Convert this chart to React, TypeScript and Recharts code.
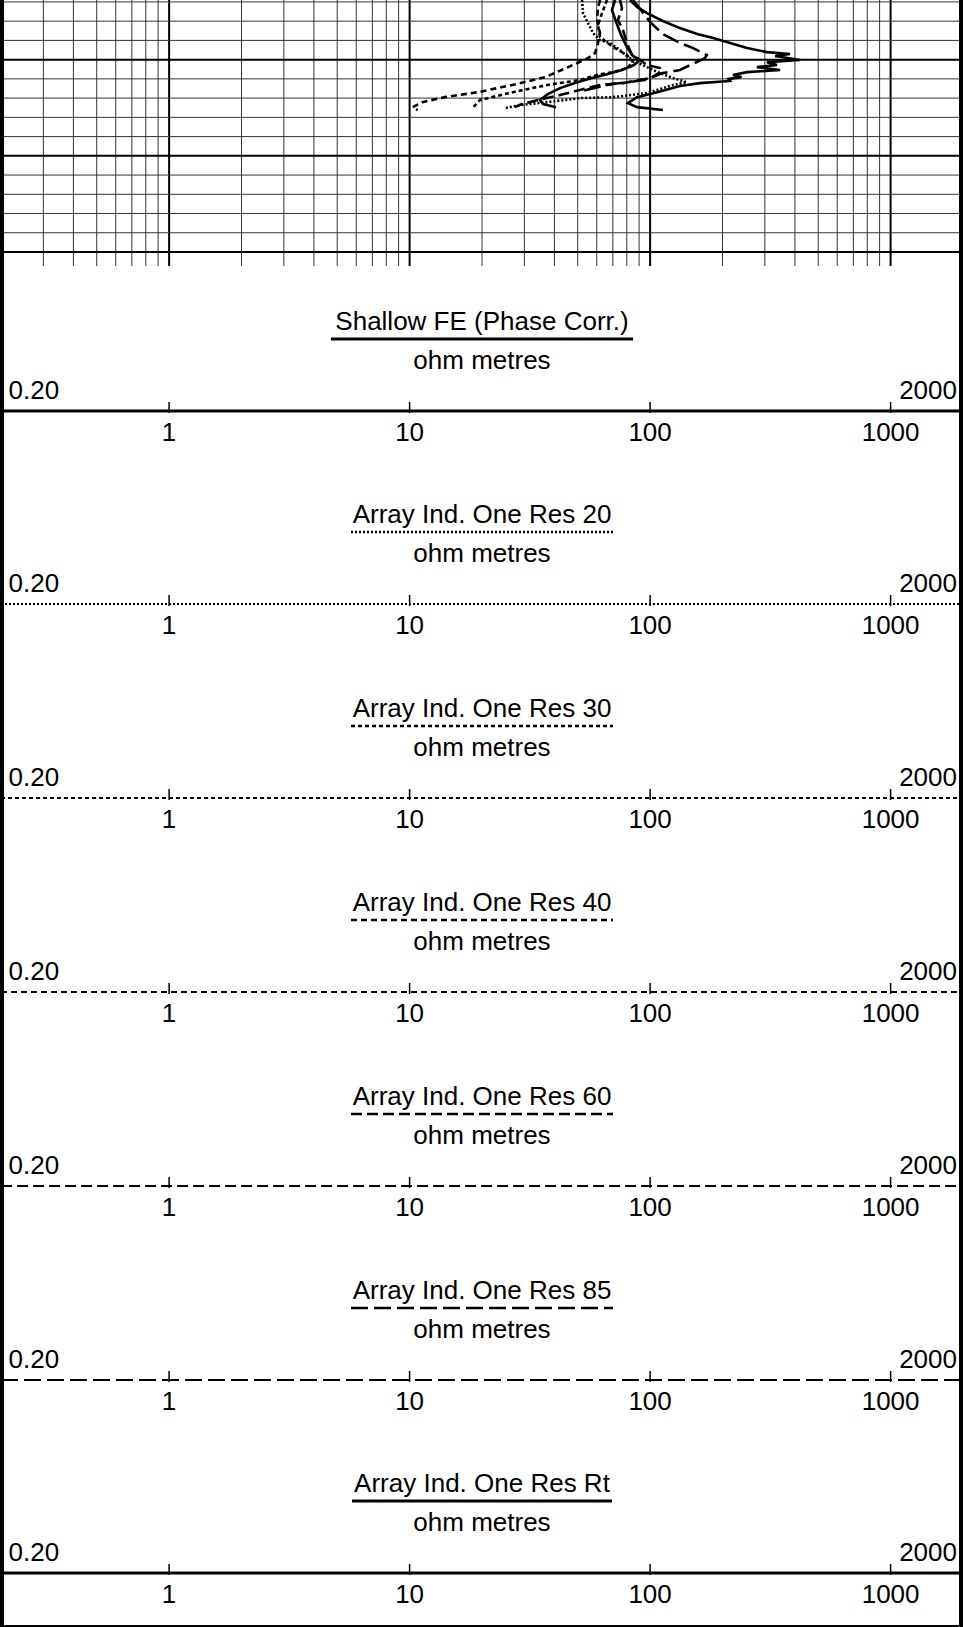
import { ScatterChart, Scatter, XAxis, YAxis, ReferenceLine } from 'recharts';

const FONT = '"Liberation Sans", Arial, Helvetica, sans-serif';

// resistivity scale, ohm m (log)
const RES_MIN = 0.2;
const RES_MAX = 2000;
const DECADES = [1, 10, 100, 1000];
const GRID_RES = [
	0.3, 0.4, 0.5, 0.6, 0.7, 0.8, 0.9, 1,
	2, 3, 4, 5, 6, 7, 8, 9, 10,
	20, 30, 40, 50, 60, 70, 80, 90, 100,
	200, 300, 400, 500, 600, 700, 800, 900, 1000,
];

// depth grid
const DEPTH_TOP = 2146.9;
const DEPTH_BOTTOM = 2160;
const DEPTH_LINES = [2147, 2148, 2149, 2150, 2151, 2152, 2153, 2154, 2155, 2156, 2157, 2158, 2159, 2160];
const DEPTH_MAJOR = [2150, 2155, 2160];

// curves: [depth, ohm m]
const shallowFe: [number, number][] = [
	[2146.9, 71.5], [2147.42, 69.4], [2148.04, 72.2], [2148.72, 75.7], [2149.35, 80.1], [2149.81, 84.9],
	[2150.02, 90.8], [2150.28, 85.7], [2150.54, 76.4], [2150.75, 66.8], [2150.96, 57.3], [2151.22, 48.7],
	[2151.48, 42.2], [2151.79, 37.6], [2152.1, 34.8], [2152.31, 35.9], [2152.47, 40.6],
];
const res20: [number, number][] = [
	[2146.9, 52.1], [2147.58, 52.6], [2148.1, 55.2], [2148.62, 57.9], [2148.98, 61.9], [2149.14, 68.1],
	[2149.5, 75.0], [2149.87, 80.9], [2150.13, 88.2], [2150.39, 97.1], [2150.7, 110], [2150.96, 124.5],
	[2151.17, 142], [2151.32, 124.5], [2151.74, 97.1], [2151.95, 70.1], [2152.0, 51.1], [2152.21, 37.3],
	[2152.36, 28.8], [2152.52, 24.9],
];
const res30: [number, number][] = [
	[2146.9, 66.2], [2147.58, 63.1], [2148.2, 60.7], [2148.83, 61.9], [2149.35, 70.1], [2149.76, 80.1],
	[2150.13, 84.9], [2150.44, 80.1], [2150.65, 70.1], [2150.8, 60.2], [2151.06, 51.1], [2151.32, 37.3],
	[2151.69, 26.9], [2152.1, 19.6], [2152.47, 18.4],
];
const res40: [number, number][] = [
	[2146.9, 61.9], [2147.32, 60.7], [2147.94, 60.2], [2148.62, 61.9], [2149.14, 60.7], [2149.66, 59.0],
	[2149.92, 55.2], [2150.39, 45.6], [2150.91, 36.6], [2151.32, 26.7], [2151.69, 19.3], [2151.95, 14.0],
	[2152.21, 11.3], [2152.47, 10.3], [2152.62, 10.8],
];
const res60: [number, number][] = [
	[2146.9, 75.0], [2147.32, 76.4], [2147.94, 73.5], [2148.46, 77.1], [2149.14, 80.1], [2149.76, 84.1],
	[2150.02, 90.8], [2150.28, 97.1], [2150.44, 110], [2150.7, 113], [2150.96, 99.9], [2151.22, 77.1],
	[2151.32, 61.9], [2151.58, 51.1], [2151.84, 42.2], [2152.1, 34.2], [2152.31, 29.3], [2152.47, 27.4],
];
const res85: [number, number][] = [
	[2146.9, 84.9], [2147.42, 91.6], [2148.04, 99.9], [2148.67, 113], [2149.09, 131], [2149.4, 151],
	[2149.76, 172], [2149.92, 169], [2150.28, 147], [2150.54, 133], [2150.65, 119], [2150.75, 107],
	[2150.91, 102], [2151.06, 95.2], [2151.17, 80.9], [2151.27, 69.4], [2151.43, 60.7], [2151.63, 52.1],
];
const resRt: [number, number][] = [
	[2146.9, 82.5], [2147.26, 88.2], [2147.58, 97.1], [2147.99, 113], [2148.36, 133], [2148.67, 157],
	[2148.88, 183], [2149.14, 215], [2149.4, 253], [2149.61, 306], [2149.71, 382], [2149.81, 331],
	[2150.02, 420], [2150.13, 306], [2150.28, 337], [2150.39, 278], [2150.54, 347], [2150.65, 253],
	[2150.8, 221], [2150.91, 240], [2151.01, 212], [2151.11, 215], [2151.22, 161], [2151.37, 133],
	[2151.69, 107], [2151.95, 88.2], [2152.26, 80.9], [2152.47, 88.2], [2152.62, 113],
];

const CURVES = [
	{ title: 'Shallow FE (Phase Corr.)', data: shallowFe, dash: undefined, axisWidth: 3, underline: 302 },
	{ title: 'Array Ind. One Res 20', data: res20, dash: '2 2', axisWidth: 2, underline: 262 },
	{ title: 'Array Ind. One Res 30', data: res30, dash: '4 3', axisWidth: 2, underline: 262 },
	{ title: 'Array Ind. One Res 40', data: res40, dash: '6 4', axisWidth: 2, underline: 262 },
	{ title: 'Array Ind. One Res 60', data: res60, dash: '11 5', axisWidth: 2, underline: 262 },
	{ title: 'Array Ind. One Res 85', data: res85, dash: '17 6', axisWidth: 2, underline: 262 },
	{ title: 'Array Ind. One Res Rt', data: resRt, dash: undefined, axisWidth: 3, underline: 260 },
];

const WIDTH = 963;
const HEIGHT = 1627;
const HEADER_AXIS_Y0 = 410.5;
const HEADER_STEP = 193.8;
const HEADER_PLOT_H = 130;

const toPoints = (rows: [number, number][]) => rows.map(([depth, res]) => ({ depth, res }));

const NoShape = () => <g />;

function GridTick(props: any) {
	const { x, y, payload } = props;
	const major = DECADES.includes(payload.value);
	return (
		<line
			x1={x}
			x2={x}
			y1={y}
			y2={y + 14}
			stroke={major ? '#000' : '#333'}
			strokeWidth={major ? 2 : 1}
		/>
	);
}

function HeaderTick(props: any) {
	const { x, y, payload } = props;
	return (
		<g>
			<line x1={x} x2={x} y1={y - 9} y2={y + 2} stroke="#000" strokeWidth={1.5} />
			<text x={x} y={y + 30} textAnchor="middle" fontSize={26} fontFamily={FONT} fill="#000">
				{payload.value}
			</text>
		</g>
	);
}

function HeaderText({ viewBox, curve }: any) {
	const vb = viewBox && viewBox.width ? viewBox : { x: 1, y: HEADER_PLOT_H, width: 962, height: 40 };
	const cx = vb.x + vb.width / 2;
	const y0 = vb.y;
	return (
		<g fontFamily={FONT} fontSize={26} fill="#000">
			<text x={cx} y={y0 - 81} textAnchor="middle">{curve.title}</text>
			<line
				x1={cx - curve.underline / 2}
				x2={cx + curve.underline / 2}
				y1={y0 - 72}
				y2={y0 - 72}
				stroke="#000"
				strokeWidth={curve.axisWidth === 3 ? 3 : 2.5}
				strokeDasharray={curve.dash}
			/>
			<text x={cx} y={y0 - 42.5} textAnchor="middle">ohm metres</text>
			<text x={vb.x + 7.5} y={y0 - 12} textAnchor="start">0.20</text>
			<text x={vb.x + vb.width - 6} y={y0 - 12} textAnchor="end">2000</text>
		</g>
	);
}

function CurveHeader({ curve, index }: any) {
	const top = HEADER_AXIS_Y0 + HEADER_STEP * index - HEADER_PLOT_H;
	return (
		<div style={{ position: 'absolute', left: 0, top }}>
			<ScatterChart width={WIDTH} height={HEADER_PLOT_H + 40} margin={{ top: 0, right: 0, bottom: 0, left: 1 }}>
				<XAxis
					type="number"
					dataKey="res"
					scale="log"
					domain={[RES_MIN, RES_MAX]}
					allowDataOverflow
					ticks={DECADES}
					interval={0}
					tickLine={false}
					tickSize={0}
					tickMargin={0}
					height={40}
					axisLine={{ stroke: '#000', strokeWidth: curve.axisWidth, strokeDasharray: curve.dash }}
					tick={HeaderTick}
					label={{ content: (p: any) => <HeaderText viewBox={p.viewBox} curve={curve} /> }}
				/>
				<YAxis type="number" dataKey="depth" domain={[DEPTH_TOP, DEPTH_BOTTOM]} hide allowDataOverflow />
				<Scatter data={toPoints(curve.data)} shape={NoShape} isAnimationActive={false} />
			</ScatterChart>
		</div>
	);
}

export default function App() {
	return (
		<div style={{ position: 'relative', width: WIDTH, height: HEIGHT, background: '#fff', overflow: 'hidden' }}>
			<style>{'body{margin:0;}'}</style>
			<div style={{ position: 'absolute', left: 0, top: 0 }}>
				<ScatterChart width={WIDTH} height={266} margin={{ top: 0, right: 0, bottom: 0, left: 1 }}>
					<XAxis
						type="number"
						dataKey="res"
						scale="log"
						domain={[RES_MIN, RES_MAX]}
						allowDataOverflow
						ticks={GRID_RES}
						interval={0}
						tick={GridTick}
						tickLine={false}
						tickSize={0}
						tickMargin={0}
						axisLine={false}
						height={14}
					/>
					<YAxis type="number" dataKey="depth" domain={[DEPTH_TOP, DEPTH_BOTTOM]} reversed hide allowDataOverflow />
					{GRID_RES.map((v) => {
						const major = DECADES.includes(v);
						return (
							<ReferenceLine
								key={`gx-${v}`}
								x={v}
								stroke={major ? '#000' : '#333'}
								strokeWidth={major ? 2 : 1}
							/>
						);
					})}
					{DEPTH_LINES.map((d) => {
						const major = DEPTH_MAJOR.includes(d);
						return (
							<ReferenceLine
								key={`gy-${d}`}
								y={d}
								stroke={major ? '#000' : '#333'}
								strokeWidth={major ? 2 : 1}
							/>
						);
					})}
					{CURVES.map((c) => (
						<Scatter
							key={c.title}
							name={c.title}
							data={toPoints(c.data)}
							shape={NoShape}
							line={{ stroke: '#000', strokeWidth: 2.6, strokeDasharray: c.dash, fill: 'none' }}
							isAnimationActive={false}
						/>
					))}
				</ScatterChart>
			</div>
			{CURVES.map((c, i) => (
				<CurveHeader key={c.title} curve={c} index={i} />
			))}
			<div
				style={{
					position: 'absolute',
					left: 0,
					top: 0,
					width: WIDTH,
					height: HEIGHT,
					boxSizing: 'border-box',
					borderLeft: '4px solid #000',
					borderRight: '4px solid #000',
					borderBottom: '2px solid #000',
					pointerEvents: 'none',
				}}
			/>
		</div>
	);
}
